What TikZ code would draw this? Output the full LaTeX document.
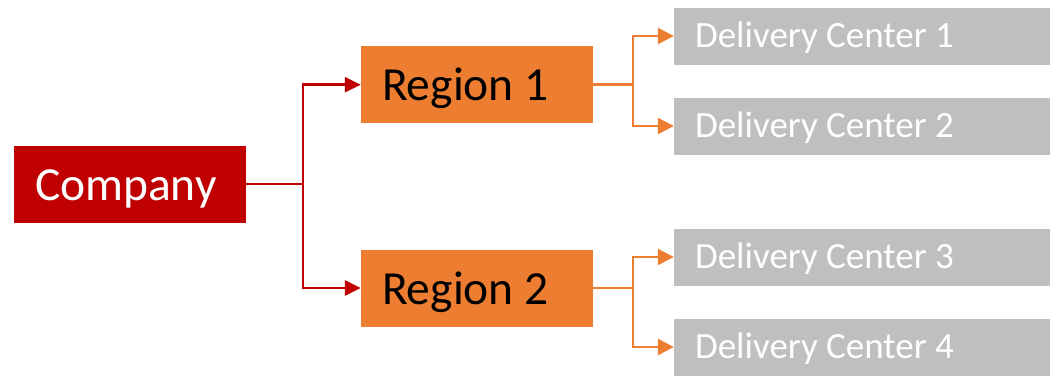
\documentclass[tikz,border=0pt]{standalone}
\usepackage{fontspec}
\setmainfont{Carlito}
\usetikzlibrary{arrows.meta}
\definecolor{cred}{HTML}{C00000}
\definecolor{corange}{HTML}{ED7D31}
\definecolor{cgray}{HTML}{BFBFBF}
\begin{document}
\begin{tikzpicture}[x=1pt,y=-1pt,
  companybox/.style={rectangle, fill=cred, text=white, minimum height=77pt,
    inner xsep=21pt, inner ysep=0pt, text width=190pt, align=flush left,
    font=\fontsize{47.5}{48}\selectfont, text height=33pt, text depth=0pt},
  regionbox/.style={rectangle, fill=corange, text=black, minimum height=77pt,
    inner xsep=21pt, inner ysep=0pt, text width=190pt, align=flush left,
    font=\fontsize{47.5}{48}\selectfont, text height=32pt, text depth=0pt},
  dcbox/.style={rectangle, fill=cgray, text=white, minimum height=57pt,
    inner xsep=21pt, inner ysep=0pt, text width=334pt, align=flush left,
    font=\fontsize{37}{37}\selectfont, text height=22.6pt, text depth=0pt},
  redarrow/.style={draw=cred, line width=2.5pt, -{Triangle[length=16pt,width=15pt]}},
  orangearrow/.style={draw=corange, line width=2.5pt, -{Triangle[length=16pt,width=16pt]}}]
\useasboundingbox (0,0) rectangle (1050,375);
\node[companybox] (company) at (130,184) {Company};
\node[regionbox] (r1) at (477,84.7) {Region 1};
\node[regionbox] (r2) at (477,288) {Region 2};
\node[dcbox] (dc1) at (862,36) {Delivery Center 1};
\node[dcbox] (dc2) at (862,126) {Delivery Center 2};
\node[dcbox] (dc3) at (862,257) {Delivery Center 3};
\node[dcbox] (dc4) at (862,347) {Delivery Center 4};
\draw[redarrow] (company.east) -- ++(57,0) |- (r1.west);
\draw[redarrow] (company.east) -- ++(57,0) |- (r2.west);
\draw[orangearrow] (r1.east) -- ++(40,0) |- (dc1.west);
\draw[orangearrow] (r1.east) -- ++(40,0) |- (dc2.west);
\draw[orangearrow] (r2.east) -- ++(40,0) |- (dc3.west);
\draw[orangearrow] (r2.east) -- ++(40,0) |- (dc4.west);
\end{tikzpicture}
\end{document}
